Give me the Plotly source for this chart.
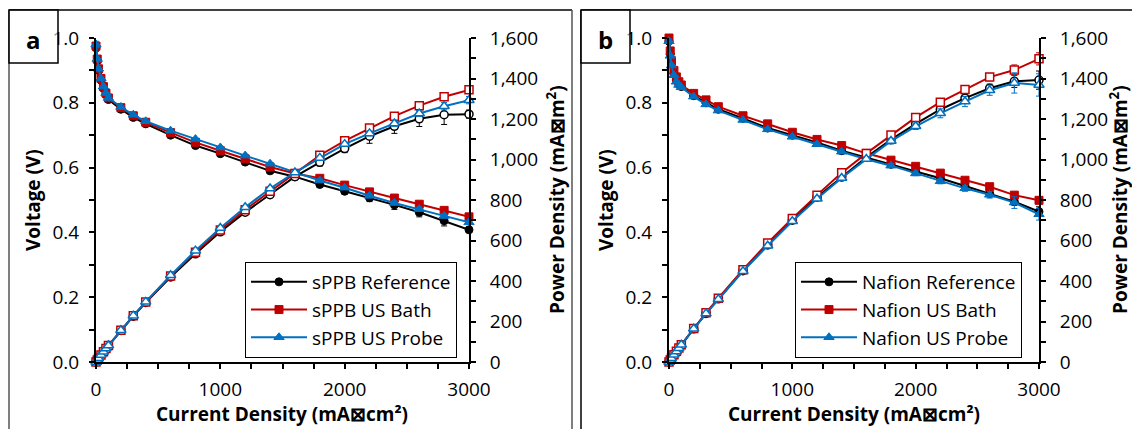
import plotly.graph_objects as go

# ---------------- data ----------------
current_density = [0, 10, 20, 40, 60, 80, 100, 200, 300, 400, 600, 800, 1000,
                   1200, 1400, 1600, 1800, 2000, 2200, 2400, 2600, 2800, 3000]

sppb_ref_v = [0.97, 0.93, 0.90, 0.87, 0.845, 0.825, 0.81, 0.78, 0.755, 0.735, 0.70, 0.668, 0.643,
              0.617, 0.59, 0.572, 0.548, 0.527, 0.507, 0.485, 0.462, 0.436, 0.408]
sppb_ref_p = [0, 9.3, 18.0, 34.8, 50.7, 66.0, 81, 156, 226.5, 294, 420, 534, 643,
              740, 826, 915, 986, 1054, 1115, 1164, 1201, 1221, 1224]
sppb_bath_v = [0.975, 0.935, 0.905, 0.875, 0.85, 0.83, 0.815, 0.785, 0.76, 0.74, 0.708, 0.678, 0.652,
               0.627, 0.602, 0.582, 0.567, 0.546, 0.525, 0.506, 0.487, 0.468, 0.448]
sppb_bath_p = [0, 9.4, 18.1, 35.0, 51.0, 66.4, 81.5, 157, 228, 296, 425, 542, 652,
               752, 843, 931, 1021, 1092, 1155, 1214, 1266, 1310, 1344]
sppb_probe_v = [0.98, 0.935, 0.905, 0.875, 0.85, 0.83, 0.815, 0.787, 0.763, 0.743, 0.714, 0.688, 0.662,
                0.637, 0.612, 0.585, 0.56, 0.538, 0.513, 0.491, 0.472, 0.451, 0.431]
sppb_probe_p = [0, 9.4, 18.1, 35.0, 51.0, 66.4, 81.5, 157, 229, 297, 428, 550, 662,
                764, 857, 936, 1008, 1076, 1129, 1178, 1227, 1263, 1293]

nafion_ref_v = [0.99, 0.95, 0.92, 0.89, 0.87, 0.858, 0.85, 0.822, 0.80, 0.78, 0.752, 0.722, 0.70,
                0.678, 0.652, 0.632, 0.61, 0.588, 0.567, 0.543, 0.52, 0.495, 0.464]
nafion_ref_p = [0, 9.5, 18.4, 35.6, 52.2, 68.6, 85, 164, 240, 312, 451, 578, 700,
                814, 913, 1011, 1098, 1176, 1247, 1303, 1352, 1386, 1392]
nafion_bath_v = [1.0, 0.96, 0.93, 0.90, 0.88, 0.865, 0.855, 0.829, 0.809, 0.788, 0.76, 0.735, 0.709,
                 0.687, 0.668, 0.644, 0.623, 0.604, 0.583, 0.561, 0.541, 0.515, 0.499]
nafion_bath_p = [0, 9.6, 18.6, 36.0, 52.8, 69.2, 85.5, 166, 243, 315, 456, 588, 709,
                 824, 935, 1030, 1121, 1208, 1283, 1346, 1407, 1442, 1497]
nafion_probe_v = [0.99, 0.945, 0.915, 0.885, 0.865, 0.855, 0.848, 0.819, 0.795, 0.776, 0.747, 0.718, 0.695,
                  0.672, 0.649, 0.626, 0.606, 0.582, 0.558, 0.536, 0.516, 0.492, 0.456]
nafion_probe_p = [0, 9.5, 18.3, 35.4, 51.9, 68.4, 84.8, 164, 239, 310, 448, 574, 695,
                  806, 909, 1002, 1091, 1164, 1228, 1286, 1342, 1378, 1368]

# error bars
sppb_ref_v_err = [0.01, 0.005, 0.004, 0.003, 0.003, 0.003, 0.003, 0.003, 0.003, 0.003, 0.004, 0.005, 0.005,
                  0.006, 0.006, 0.006, 0.007, 0.008, 0.012, 0.014, 0.014, 0.016, 0.008]
sppb_ref_p_err = [0, 0, 0, 0, 0, 0, 0, 3, 4, 5, 6, 8, 10, 12, 15, 15, 18, 20, 35, 35, 38, 48, 20]
sppb_bath_v_err = [0.01, 0.004, 0.003, 0.003, 0.003, 0.003, 0.003, 0.003, 0.003, 0.003, 0.003, 0.003, 0.003,
                   0.004, 0.004, 0.004, 0.004, 0.004, 0.004, 0.005, 0.005, 0.005, 0.004]
sppb_bath_p_err = [0, 0, 0, 0, 0, 0, 0, 1, 1, 1, 2, 3, 3, 4, 5, 6, 7, 8, 9, 10, 12, 12, 12]
sppb_probe_v_err = [0.01, 0.004, 0.003, 0.003, 0.003, 0.003, 0.003, 0.003, 0.003, 0.003, 0.003, 0.003, 0.004,
                    0.004, 0.004, 0.004, 0.005, 0.005, 0.006, 0.006, 0.006, 0.007, 0.006]
sppb_probe_p_err = [0, 0, 0, 0, 0, 0, 0, 1, 1, 1, 2, 3, 4, 5, 6, 7, 9, 10, 12, 14, 15, 18, 18]

nafion_ref_v_err = [0.01, 0.004, 0.003, 0.003, 0.003, 0.003, 0.003, 0.003, 0.003, 0.003, 0.003, 0.003, 0.004,
                    0.004, 0.004, 0.005, 0.005, 0.005, 0.006, 0.006, 0.008, 0.011, 0.015]
nafion_ref_p_err = [0, 0, 0, 0, 0, 0, 0, 1, 1, 2, 3, 4, 5, 6, 7, 8, 9, 10, 14, 15, 20, 30, 45]
nafion_bath_v_err = [0.01, 0.004, 0.003, 0.003, 0.003, 0.003, 0.003, 0.003, 0.003, 0.003, 0.003, 0.003, 0.003,
                     0.004, 0.004, 0.004, 0.004, 0.005, 0.005, 0.006, 0.007, 0.009, 0.01]
nafion_bath_p_err = [0, 0, 0, 0, 0, 0, 0, 1, 1, 2, 3, 4, 5, 6, 7, 8, 9, 10, 11, 13, 18, 25, 30]
nafion_probe_v_err = [0.01, 0.004, 0.003, 0.003, 0.003, 0.003, 0.003, 0.003, 0.003, 0.003, 0.003, 0.004, 0.004,
                      0.005, 0.005, 0.005, 0.006, 0.007, 0.008, 0.009, 0.01, 0.018, 0.018]
nafion_probe_p_err = [0, 0, 0, 0, 0, 0, 0, 1, 1, 2, 3, 4, 6, 8, 10, 12, 14, 16, 22, 25, 25, 50, 55]

legend_names_left = ["sPPB Reference", "sPPB US Bath", "sPPB US Probe"]
legend_names_right = ["Nafion Reference", "Nafion US Bath", "Nafion US Probe"]
panel_labels = ["a", "b"]
x_title = "Current Density (mA⊠cm²)"
y_title_left = "Voltage (V)"
y_title_right = "Power Density (mA⊠m<sup>2</sup>)"

# ---------------- styling ----------------
W, H = 1132, 429
FONT = "Open Sans"
colors = ["#000000", "#C00000", "#0070C0"]
symbols = ["circle", "square", "triangle-up"]
msize = [8, 8, 9]


def px(x):
    return x / W


def py(y):
    return 1 - y / H


fig = go.Figure()

panels = [
    dict(xa="x", ya="y", ya2="y2", legend="legend",
         names=legend_names_left,
         v=[sppb_ref_v, sppb_bath_v, sppb_probe_v],
         p=[sppb_ref_p, sppb_bath_p, sppb_probe_p],
         ve=[sppb_ref_v_err, sppb_bath_v_err, sppb_probe_v_err],
         pe=[sppb_ref_p_err, sppb_bath_p_err, sppb_probe_p_err]),
    dict(xa="x2", ya="y3", ya2="y4", legend="legend2",
         names=legend_names_right,
         v=[nafion_ref_v, nafion_bath_v, nafion_probe_v],
         p=[nafion_ref_p, nafion_bath_p, nafion_probe_p],
         ve=[nafion_ref_v_err, nafion_bath_v_err, nafion_probe_v_err],
         pe=[nafion_ref_p_err, nafion_bath_p_err, nafion_probe_p_err]),
]

for pn in panels:
    for i in range(3):
        fig.add_trace(go.Scatter(
            x=current_density, y=pn["v"][i], xaxis=pn["xa"], yaxis=pn["ya"],
            mode="lines+markers", name=pn["names"][i], legend=pn["legend"],
            line=dict(color=colors[i], width=2),
            marker=dict(symbol=symbols[i], size=msize[i], color=colors[i],
                        line=dict(color=colors[i], width=1)),
            error_y=dict(type="data", array=pn["ve"][i], color=colors[i], thickness=1, width=3),
            cliponaxis=False,
        ))
    for i in range(3):
        fig.add_trace(go.Scatter(
            x=current_density, y=pn["p"][i], xaxis=pn["xa"], yaxis=pn["ya2"],
            mode="lines+markers", name=pn["names"][i] + " power", showlegend=False,
            line=dict(color=colors[i], width=2),
            marker=dict(symbol=symbols[i], size=msize[i], color="white",
                        line=dict(color=colors[i], width=1.5)),
            error_y=dict(type="data", array=pn["pe"][i], color=colors[i], thickness=1, width=3),
            cliponaxis=False,
        ))

tickfont = dict(family=FONT, size=19, color="#000000")
common_axis = dict(showline=True, linewidth=2, linecolor="black", showgrid=False, zeroline=False,
                   ticks="outside", ticklen=5, tickwidth=1.5, tickcolor="black",
                   tickfont=tickfont, fixedrange=True, automargin=False)

xdom1 = [px(96), px(469)]
xdom2 = [px(669), px(1039)]
ydom = [py(362), py(38)]

minor_style = dict(ticks="outside", ticklen=5, tickwidth=1.5, tickcolor="black", showgrid=False)
xa_common = dict(common_axis, range=[0, 3000], dtick=1000, tick0=0, tickformat="d",
                 minor=dict(minor_style, dtick=250), ticklabelstandoff=4)
ya_common = dict(common_axis, range=[0, 1.0], dtick=0.2, tick0=0, tickformat=".1f",
                 minor=dict(minor_style, dtick=0.1), ticklabelstandoff=6)
yp_common = dict(common_axis, range=[0, 1600], dtick=200, tick0=0, tickformat=",d",
                 minor=dict(minor_style, dtick=100), side="right", ticklabelstandoff=10)

legend_common = dict(font=dict(family=FONT, size=19, color="#000000"), bgcolor="white",
                     bordercolor="#000000", borderwidth=1, xanchor="left", yanchor="top",
                     tracegroupgap=0, itemwidth=56, itemclick=False, itemdoubleclick=False)

annotations = []
for x0, lab in [(9, panel_labels[0]), (581, panel_labels[1])]:
    annotations.append(dict(text="<b>%s</b>" % lab, x=px(x0 + 24.5), y=py(39), xref="paper", yref="paper",
                            showarrow=False, font=dict(family=FONT, size=24, color="black"),
                            xanchor="center", yanchor="middle"))
for xc in [282, 854]:
    annotations.append(dict(text="<b>%s</b>" % x_title, x=px(xc), y=py(414), xref="paper", yref="paper",
                            showarrow=False, font=dict(family=FONT, size=19, color="black"),
                            xanchor="center", yanchor="middle"))
for xc in [33, 606]:
    annotations.append(dict(text="<b>%s</b>" % y_title_left, x=px(xc), y=py(200), xref="paper", yref="paper",
                            showarrow=False, font=dict(family=FONT, size=19, color="black"),
                            textangle=-90, xanchor="center", yanchor="middle"))
for xc in [556, 1119]:
    annotations.append(dict(text="<b>%s</b>" % y_title_right, x=px(xc), y=py(200), xref="paper", yref="paper",
                            showarrow=False, font=dict(family=FONT, size=19, color="black"),
                            textangle=-90, xanchor="center", yanchor="middle"))

shapes = []
border_l = dict(color="#555555", width=1.5)
border_r = dict(color="#000000", width=1.5)
shapes += [
    dict(type="line", xref="paper", yref="paper", x0=px(9), x1=px(9), y0=py(10), y1=0, line=border_l),
    dict(type="line", xref="paper", yref="paper", x0=px(9), x1=px(572), y0=py(10), y1=py(10), line=border_r),
    dict(type="line", xref="paper", yref="paper", x0=px(572), x1=px(572), y0=py(10), y1=0, line=border_l),
    dict(type="line", xref="paper", yref="paper", x0=px(581), x1=px(581), y0=py(10), y1=0, line=border_r),
    dict(type="line", xref="paper", yref="paper", x0=px(581), x1=1, y0=py(10), y1=py(10), line=border_r),
]
for x0 in [9, 581]:
    shapes.append(dict(type="rect", xref="paper", yref="paper", x0=px(x0), x1=px(x0 + 49),
                       y0=py(63), y1=py(10), line=dict(color="black", width=1.5),
                       fillcolor="rgba(255,255,255,0.55)", layer="above"))

fig.update_layout(
    width=W, height=H,
    margin=dict(l=0, r=0, t=0, b=0, autoexpand=False),
    paper_bgcolor="white", plot_bgcolor="rgba(0,0,0,0)",
    font=dict(family=FONT, size=19, color="black"),
    xaxis=dict(xa_common, domain=xdom1, anchor="y"),
    yaxis=dict(ya_common, domain=ydom, anchor="x"),
    yaxis2=dict(yp_common, domain=ydom, anchor="x", overlaying="y"),
    xaxis2=dict(xa_common, domain=xdom2, anchor="y3"),
    yaxis3=dict(ya_common, domain=ydom, anchor="x2"),
    yaxis4=dict(yp_common, domain=ydom, anchor="x2", overlaying="y3"),
    legend=dict(legend_common, x=px(245), y=py(262)),
    legend2=dict(legend_common, x=px(795), y=py(262)),
    annotations=annotations,
    shapes=shapes,
    showlegend=True,
)

fig.write_html("out.html", config={"displayModeBar": False},
               post_script="document.body.style.margin='0';document.body.style.overflow='hidden';")
